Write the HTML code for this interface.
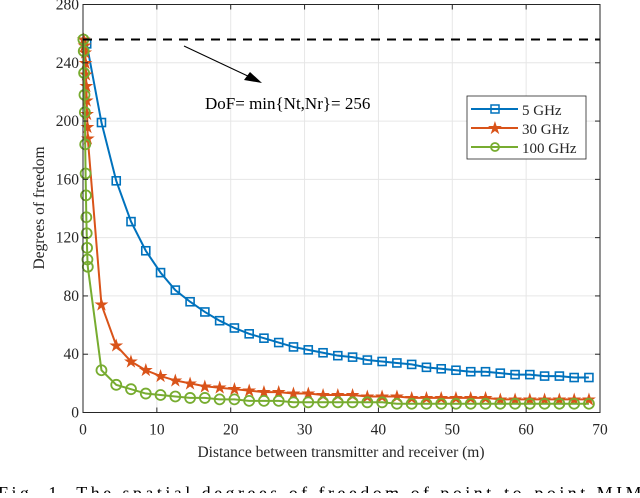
<!DOCTYPE html>
<html><head><meta charset="utf-8"><style>
body{margin:0;background:#fff;width:640px;height:493px;overflow:hidden}
svg text{font-family:"Liberation Serif",serif;fill:#262626}
</style></head><body>
<svg id="chart" width="640" height="493" xmlns="http://www.w3.org/2000/svg">
<g id="grid"></g>
<g id="series"></g>
<g id="axes"></g>
<line id="limit" stroke="#000" stroke-width="2" stroke-dasharray="9,7"/>
<g>
<line x1="184" y1="46" x2="252" y2="78" stroke="#000" stroke-width="1"/>
<polygon points="262,83 244,80 250,72" fill="#000"/>
</g>
<text x="205" y="109" font-size="17" style="fill:#000">DoF= min{Nt,Nr}= 256</text>
<g>
<rect x="467" y="96" width="119" height="63" fill="#fff" stroke="#262626" stroke-width="0.8"/>
<g><line x1="471" y1="109" x2="518" y2="109" stroke="#0072BD" stroke-width="2"/><rect x="491" y="105" width="8" height="8" fill="none" stroke="#0072BD" stroke-width="1.5"/><text x="522" y="115" font-size="15">5 GHz</text></g>
<g><line x1="471" y1="128" x2="518" y2="128" stroke="#D95319" stroke-width="2"/><text x="495" y="134" font-size="18" text-anchor="middle" style="fill:#D95319">★</text><text x="522" y="134" font-size="15">30 GHz</text></g>
<g><line x1="471" y1="147" x2="518" y2="147" stroke="#77AC30" stroke-width="2"/><circle cx="495" cy="147" r="4" fill="none" stroke="#77AC30" stroke-width="1.8"/><text x="522" y="153" font-size="15">100 GHz</text></g>
</g>
<text x="341" y="457" font-size="15.5" text-anchor="middle">Distance between transmitter and receiver (m)</text>
<text transform="translate(44,208) rotate(-90)" font-size="15.5" text-anchor="middle">Degrees of freedom</text>
<text x="-2" y="499" font-size="18" style="fill:#000" textLength="660" lengthAdjust="spacing">Fig. 1.  The spatial degrees of freedom of point-to-point MIMO</text>
</svg>
<script>
const xTicks=[0,10,20,30,40,50,60,70];
const yTicks=[0,40,80,120,160,200,240,280];
const limitValue=256;
const xFar=[2.5,4.5,6.5,8.5,10.5,12.5,14.5,16.5,18.5,20.5,22.5,24.5,26.5,28.5,30.5,32.5,34.5,36.5,38.5,40.5,42.5,44.5,46.5,48.5,50.5,52.5,54.5,56.5,58.5,60.5,62.5,64.5,66.5,68.5];
const blueX=[0.5].concat(xFar);
const blueY=[253,199,159,131,111,96,84,76,69,63,58,54,51,48,45,43,41,39,38,36,35,34,33,31,30,29,28,28,27,26,26,25,25,24,24];
const orangeNearX=[0.1,0.2,0.3,0.35,0.4,0.45,0.5,0.55,0.6,0.65];
const orangeNearY=[256,252,247,240,232,224,214,205,196,188];
const orangeFarY=[74,46,35,29,25,22,20,18,17,16,15,14,14,13,13,12,12,12,11,11,11,10,10,10,10,10,10,9,9,9,9,9,9,9];
const greenNearX=[0.05,0.1,0.15,0.2,0.25,0.3,0.35,0.4,0.45,0.5,0.55,0.6,0.65];
const greenNearY=[256,248,233,218,206,184,164,149,134,123,113,105,100];
const greenFarY=[29,19,16,13,12,11,10,10,9,9,8,8,8,7,7,7,7,7,7,7,6,6,6,6,6,6,6,6,6,6,6,6,6,6];
const X0=83,X1=600,Y0=412.5,Y1=4.5;
const sx=v=>X0+(v-0)/70*(X1-X0);
const sy=v=>Y0-(v/280)*(Y0-Y1);
const NS="http://www.w3.org/2000/svg";
function mk(tag,attrs,parent){const e=document.createElementNS(NS,tag);for(const k in attrs)e.setAttribute(k,attrs[k]);parent.appendChild(e);return e;}
const grid=document.getElementById('grid'),axes=document.getElementById('axes'),ser=document.getElementById('series');
xTicks.forEach(t=>{
 const g=mk('line',{x1:sx(t),x2:sx(t),y1:Y1,y2:Y0,stroke:'#e6e6e6','stroke-width':1},grid);
 
 
 const tk=mk('line',{x1:sx(t),x2:sx(t),y1:Y0,y2:Y0-5,stroke:'#262626'},axes);
 
 
 const tt=mk('line',{x1:sx(t),x2:sx(t),y1:Y1,y2:Y1+5,stroke:'#262626'},axes);
 
 
 const l=mk('text',{x:sx(t),y:Y0+22,'font-size':15.5,'text-anchor':'middle'},axes);l.textContent=t;
 
 
});
yTicks.forEach(t=>{
 const g=mk('line',{x1:X0,x2:X1,y1:sy(t),y2:sy(t),stroke:'#e6e6e6','stroke-width':1},grid);
 
 
 const tk=mk('line',{x1:X0,x2:X0+5,y1:sy(t),y2:sy(t),stroke:'#262626'},axes);
 
 
 const tr=mk('line',{x1:X1,x2:X1-5,y1:sy(t),y2:sy(t),stroke:'#262626'},axes);
 
 
 const l=mk('text',{x:X0-4,y:sy(t)+5,'font-size':15.5,'text-anchor':'end'},axes);l.textContent=t;
 
 
});
const box=mk('rect',{x:X0,y:Y1,width:X1-X0,height:Y0-Y1,fill:'none',stroke:'#262626','stroke-width':1},axes);


const lim=document.getElementById('limit');
lim.setAttribute('x1',sx(0));lim.setAttribute('x2',sx(70));lim.setAttribute('y1',sy(limitValue));lim.setAttribute('y2',sy(limitValue));
function series(name,xs,ys,color,marker){
 const g=mk('g',{},ser);
 
 
 const p=mk('polyline',{points:xs.map((x,i)=>sx(x)+','+sy(ys[i])).join(' '),fill:'none',stroke:color,'stroke-width':2},g);
 
 
 xs.forEach((x,i)=>{
  let m;
  if(marker==='sq')m=mk('rect',{x:sx(x)-4,y:sy(ys[i])-4,width:8,height:8,fill:'none',stroke:color,'stroke-width':1.6},g);
  else if(marker==='circ')m=mk('circle',{cx:sx(x),cy:sy(ys[i]),r:5,fill:'none',stroke:color,'stroke-width':1.8},g);
  else{m=mk('text',{x:sx(x),y:sy(ys[i])+6,'font-size':18,'text-anchor':'middle',style:'fill:'+color},g);m.textContent='★';}
  
  
 });
}
series('series-5ghz',blueX,blueY,'#0072BD','sq');
series('series-30ghz',orangeNearX.concat(xFar),orangeNearY.concat(orangeFarY),'#D95319','star');
series('series-100ghz',greenNearX.concat(xFar),greenNearY.concat(greenFarY),'#77AC30','circ');
</script>
</body></html>
